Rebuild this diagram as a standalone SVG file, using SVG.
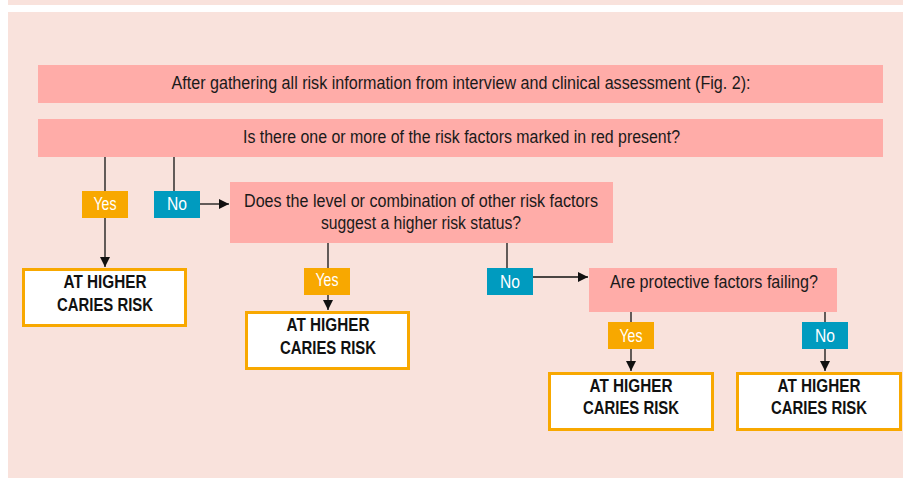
<svg xmlns="http://www.w3.org/2000/svg" width="903" height="478" viewBox="0 0 903 478">
<defs>
<style>
.q{fill:#FFACA8}
.res{fill:#FFFFFF;stroke:#F8A800;stroke-width:3}
.yes{fill:#F8A800}
.no{fill:#009BBF}
.t{font-family:"Liberation Sans",Arial,sans-serif;font-size:17.5px;fill:#1a1a1a;text-anchor:middle}
.b{font-family:"Liberation Sans",Arial,sans-serif;font-size:17.5px;font-weight:bold;fill:#111;text-anchor:middle}
.l{font-family:"Liberation Sans",Arial,sans-serif;font-size:17.5px;fill:#FFFFFF;text-anchor:middle}
.c{fill:none;stroke:#111;stroke-width:1.3}
</style>
<marker id="ah" markerUnits="userSpaceOnUse" markerWidth="10" markerHeight="10" refX="10" refY="5" orient="auto">
<path d="M0,0 L10,5 L0,10 z" fill="#111"/>
</marker>
</defs>
<rect x="0" y="0" width="903" height="478" fill="#FFFFFF"/>
<rect x="8" y="0" width="895" height="478" fill="#F9E2DC"/>
<rect x="8" y="5" width="895" height="7" fill="#FFFFFF"/>

<g id="connectors">
<path class="c" d="M105,157 V191"/>
<path class="c" d="M105,218 V267" marker-end="url(#ah)"/>
<path class="c" d="M174,157 V191"/>
<path class="c" d="M200,204 H229" marker-end="url(#ah)"/>
<path class="c" d="M328,243 V268"/>
<path class="c" d="M328,295 V310" marker-end="url(#ah)"/>
<path class="c" d="M507,243 V268"/>
<path class="c" d="M533,277 H588" marker-end="url(#ah)"/>
<path class="c" d="M631,312 V322"/>
<path class="c" d="M631,349 V371" marker-end="url(#ah)"/>
<path class="c" d="M825,312 V322"/>
<path class="c" d="M825,349 V371" marker-end="url(#ah)"/>
</g>

<g id="intro">
<rect class="q" x="38" y="65" width="845" height="38"/>
<text class="t" x="461" y="89" textLength="579" lengthAdjust="spacingAndGlyphs">After gathering all risk information from interview and clinical assessment (Fig. 2):</text>
</g>
<g id="q1">
<rect class="q" x="38" y="119" width="845" height="38"/>
<text class="t" x="461.5" y="143" textLength="437" lengthAdjust="spacingAndGlyphs">Is there one or more of the risk factors marked in red present?</text>
</g>
<g id="q2">
<rect class="q" x="230" y="182" width="383" height="61"/>
<text class="t" x="421" y="207" textLength="354" lengthAdjust="spacingAndGlyphs">Does the level or combination of other risk factors</text>
<text class="t" x="421" y="229" textLength="200" lengthAdjust="spacingAndGlyphs">suggest a higher risk status?</text>
</g>
<g id="q3">
<rect class="q" x="589" y="268" width="248" height="44"/>
<text class="t" x="714" y="288" textLength="208" lengthAdjust="spacingAndGlyphs">Are protective factors failing?</text>
</g>

<g id="yes1"><rect class="yes" x="82" y="191" width="46" height="27"/><text class="l" x="105" y="210" textLength="23" lengthAdjust="spacingAndGlyphs">Yes</text></g>
<g id="no1"><rect class="no" x="154" y="191" width="46" height="27"/><text class="l" x="177" y="210" textLength="20" lengthAdjust="spacingAndGlyphs">No</text></g>
<g id="yes2"><rect class="yes" x="304" y="268" width="46" height="27"/><text class="l" x="327" y="286" textLength="23" lengthAdjust="spacingAndGlyphs">Yes</text></g>
<g id="no2"><rect class="no" x="487" y="268" width="46" height="27"/><text class="l" x="510" y="288" textLength="20" lengthAdjust="spacingAndGlyphs">No</text></g>
<g id="yes3"><rect class="yes" x="608" y="322" width="46" height="27"/><text class="l" x="631" y="342" textLength="23" lengthAdjust="spacingAndGlyphs">Yes</text></g>
<g id="no3"><rect class="no" x="802" y="322" width="46" height="27"/><text class="l" x="825" y="342" textLength="20" lengthAdjust="spacingAndGlyphs">No</text></g>

<g id="risk1"><rect class="res" x="23.5" y="269.5" width="162" height="56"/><text class="b" x="105" y="288" textLength="83" lengthAdjust="spacingAndGlyphs">AT HIGHER</text><text class="b" x="105" y="311" textLength="96" lengthAdjust="spacingAndGlyphs">CARIES RISK</text></g>
<g id="risk2"><rect class="res" x="246.5" y="312.5" width="162" height="56"/><text class="b" x="328" y="331" textLength="83" lengthAdjust="spacingAndGlyphs">AT HIGHER</text><text class="b" x="328" y="354" textLength="96" lengthAdjust="spacingAndGlyphs">CARIES RISK</text></g>
<g id="risk3"><rect class="res" x="549.5" y="373.5" width="163" height="56"/><text class="b" x="631" y="392" textLength="83" lengthAdjust="spacingAndGlyphs">AT HIGHER</text><text class="b" x="631" y="414" textLength="96" lengthAdjust="spacingAndGlyphs">CARIES RISK</text></g>
<g id="risk4"><rect class="res" x="737.5" y="373.5" width="163" height="56"/><text class="b" x="819" y="392" textLength="83" lengthAdjust="spacingAndGlyphs">AT HIGHER</text><text class="b" x="819" y="414" textLength="96" lengthAdjust="spacingAndGlyphs">CARIES RISK</text></g>
</svg>
